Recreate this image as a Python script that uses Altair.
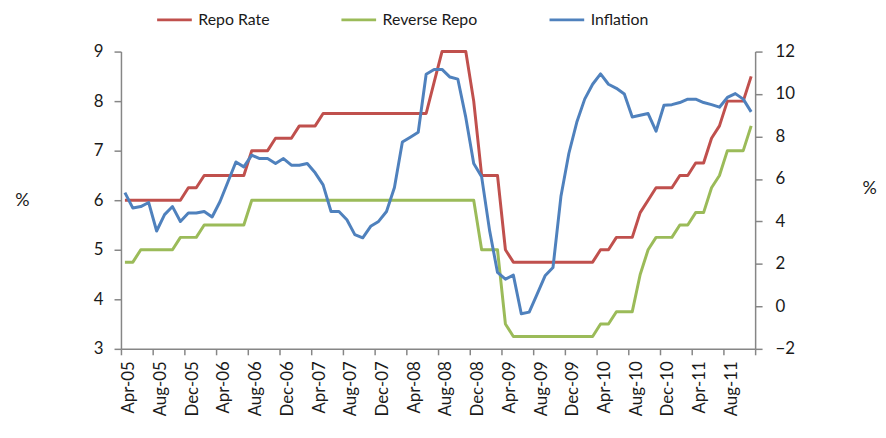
import json
import altair as alt
import pandas as pd

# ---- data (monthly, Apr-05 .. Nov-11) ----
months = list(pd.date_range("2005-04-01", periods=80, freq="MS").strftime("%b-%y"))

repo = [
    6.0, 6.0, 6.0, 6.0, 6.0, 6.0, 6.0, 6.0,
    6.25, 6.25,
    6.5, 6.5, 6.5, 6.5, 6.5, 6.5,
    7.0, 7.0, 7.0,
    7.25, 7.25, 7.25,
    7.5, 7.5, 7.5,
    7.75, 7.75, 7.75, 7.75, 7.75, 7.75, 7.75, 7.75, 7.75, 7.75, 7.75, 7.75, 7.75, 7.75,
    8.38,
    9.0, 9.0, 9.0, 9.0,
    8.0,
    6.5, 6.5, 6.5,
    5.0,
    4.75, 4.75, 4.75, 4.75, 4.75, 4.75, 4.75, 4.75, 4.75, 4.75, 4.75,
    5.0, 5.0,
    5.25, 5.25, 5.25,
    5.75,
    6.0,
    6.25, 6.25, 6.25,
    6.5, 6.5,
    6.75, 6.75,
    7.25,
    7.5,
    8.0, 8.0, 8.0,
    8.5,
]

reverse_repo = [
    4.75, 4.75,
    5.0, 5.0, 5.0, 5.0, 5.0,
    5.25, 5.25, 5.25,
    5.5, 5.5, 5.5, 5.5, 5.5, 5.5,
    6.0, 6.0, 6.0, 6.0, 6.0, 6.0, 6.0, 6.0, 6.0, 6.0,
    6.0, 6.0, 6.0, 6.0, 6.0, 6.0, 6.0, 6.0, 6.0, 6.0,
    6.0, 6.0, 6.0, 6.0, 6.0, 6.0, 6.0, 6.0, 6.0,
    5.0, 5.0, 5.0,
    3.5,
    3.25, 3.25, 3.25, 3.25, 3.25, 3.25, 3.25, 3.25, 3.25, 3.25, 3.25,
    3.5, 3.5,
    3.75, 3.75, 3.75,
    4.5,
    5.0,
    5.25, 5.25, 5.25,
    5.5, 5.5,
    5.75, 5.75,
    6.25,
    6.5,
    7.0, 7.0, 7.0,
    7.5,
]

inflation = [
    5.36, 4.63, 4.70, 4.89, 3.55, 4.32, 4.70, 4.00, 4.40, 4.40,
    4.47, 4.21, 4.94, 5.87, 6.80, 6.57, 7.12, 6.96, 6.96, 6.73,
    6.96, 6.65, 6.65, 6.73, 6.29, 5.72, 4.47, 4.47, 4.08, 3.38,
    3.23, 3.77, 4.00, 4.47, 5.60, 7.74, 7.97, 8.20, 10.93, 11.16,
    11.16, 10.80, 10.70, 8.90, 6.73, 6.10, 3.58, 1.60, 1.28, 1.47,
    -0.35, -0.27, 0.58, 1.44, 1.83, 5.17, 7.20, 8.67, 9.76, 10.46,
    10.95, 10.46, 10.27, 10.00, 8.92, 9.00, 9.08, 8.25, 9.47, 9.50,
    9.60, 9.76, 9.76, 9.60, 9.50, 9.38, 9.84, 10.02, 9.76, 9.16,
]

tick_labels = ["Apr-05", "Aug-05", "Dec-05", "Apr-06", "Aug-06", "Dec-06",
               "Apr-07", "Aug-07", "Dec-07", "Apr-08", "Aug-08", "Dec-08",
               "Apr-09", "Aug-09", "Dec-09", "Apr-10", "Aug-10", "Dec-10",
               "Apr-11", "Aug-11"]
left_ticks = [3, 4, 5, 6, 7, 8, 9]
right_ticks = [-2, 0, 2, 4, 6, 8, 10, 12]

series_names = ["Repo Rate", "Reverse Repo", "Inflation"]
series_colors = ["#C0504D", "#9BBB59", "#4F81BD"]

FONT = "Lato"
TXT = "#1a1a1a"
AX = "#868686"

idx = list(range(len(months)))
left_df = pd.concat([
    pd.DataFrame({"idx": idx, "month": months, "series": "Repo Rate", "value": repo}),
    pd.DataFrame({"idx": idx, "month": months, "series": "Reverse Repo", "value": reverse_repo}),
])
right_df = pd.DataFrame({"idx": idx, "month": months, "series": "Inflation", "value": inflation})

n = len(months)
tick_values = [k - 0.5 for k in range(0, n + 1, 4)]
label_expr = f"{json.dumps(tick_labels)}[round((datum.value + 0.5) / 4)] || ''"

x_enc = alt.X(
    "idx:Q",
    scale=alt.Scale(domain=[-0.5, n - 0.5], nice=False, zero=False),
    axis=alt.Axis(values=tick_values, labelExpr=label_expr, labelAngle=-90,
                  labelOffset=8, tickSize=6, labelPadding=6, title=None,
                  labelOverlap=False, labelFlush=False, labelBound=False,
                  labelFontSize=17),
)

legend = alt.Legend(orient="none", legendX=35, legendY=-51, direction="horizontal",
                    title=None, symbolType="stroke", symbolSize=1225,
                    symbolStrokeWidth=3, labelFontSize=16, labelFont=FONT,
                    columnPadding=66, labelOffset=5, padding=0, labelColor=TXT)

color = alt.Color("series:N",
                  scale=alt.Scale(domain=series_names, range=series_colors),
                  legend=legend)

left = alt.Chart(left_df).mark_line(strokeWidth=3, strokeJoin="round").encode(
    x=x_enc,
    y=alt.Y("value:Q", scale=alt.Scale(domain=[3, 9], nice=False, zero=False),
            axis=alt.Axis(values=left_ticks, title="%", titleAngle=0,
                          titleX=-100, titleY=150, titleAlign="center",
                          titleBaseline="middle", tickSize=7, labelPadding=11,
                          labelFontSize=17)),
    color=color,
)

right = alt.Chart(right_df).mark_line(strokeWidth=3, strokeJoin="round").encode(
    x=x_enc,
    y=alt.Y("value:Q", scale=alt.Scale(domain=[-2, 12], nice=False, zero=False),
            axis=alt.Axis(orient="right", values=right_ticks, title="%", titleAngle=0,
                          titleX=115, titleY=138, titleAlign="center",
                          titleBaseline="middle", tickSize=7, labelPadding=13,
                          labelFontSize=17)),
    color=color,
)

chart = alt.layer(left, right).resolve_scale(y="independent").properties(
    width=640, height=300,
    autosize=alt.AutoSizeParams(type="none"),
    padding={"left": 114, "top": 42, "right": 124, "bottom": 88},
).configure_view(stroke=None).configure_axis(
    domainColor=AX, tickColor=AX, domainWidth=1.5, tickWidth=1.5,
    labelFont=FONT, titleFont=FONT, labelColor=TXT, titleColor=TXT,
    titleFontSize=18, titleFontWeight="normal", grid=False,
)

chart.save("out.html", embed_options={"renderer": "svg", "actions": False})
